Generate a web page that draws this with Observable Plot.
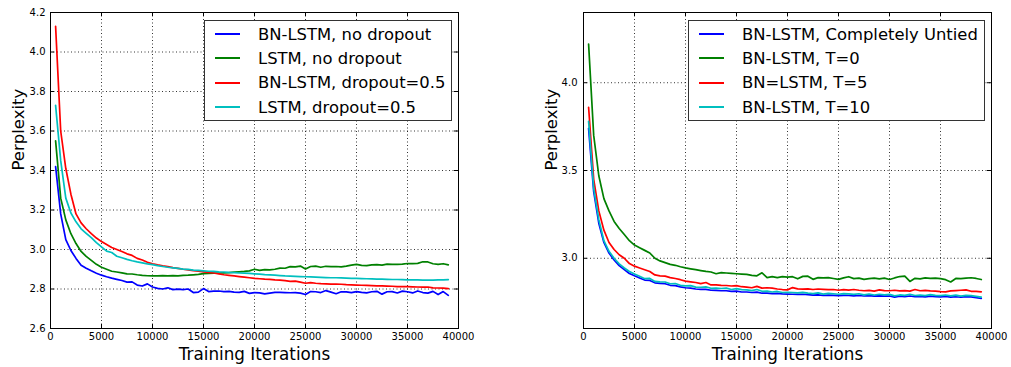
<!DOCTYPE html>
<html><head><meta charset="utf-8">
<script src="https://cdn.jsdelivr.net/npm/d3@7"></script>
<script src="https://cdn.jsdelivr.net/npm/@observablehq/plot@0.6"></script>
<style>
body{margin:0;background:#fff;font-family:"DejaVu Sans",sans-serif;}
#wrap{position:relative;width:1011px;height:367px;overflow:hidden;}
.panel{position:absolute;top:0;}
.legend{position:absolute;background:#fff;border:1.3px solid #333;box-sizing:border-box;padding-top:1px;}
.row{height:24.3px;display:flex;align-items:center;font-size:16.4px;white-space:nowrap;color:#000;}
.swatch{width:25px;height:0;border-top:2px solid;margin-left:10px;margin-right:18px;}
</style></head><body><div id="wrap"></div>
<script>
const iterations = [500,1000,1500,2000,2500,3000,3500,4000,4500,5000,
 5500,6000,6500,7000,7500,8000,8500,9000,9500,10000,
 10500,11000,11500,12000,12500,13000,13500,14000,14500,15000,
 15500,16000,16500,17000,17500,18000,18500,19000,19500,20000,
 20500,21000,21500,22000,22500,23000,23500,24000,24500,25000,
 25500,26000,26500,27000,27500,28000,28500,29000,29500,30000,
 30500,31000,31500,32000,32500,33000,33500,34000,34500,35000,
 35500,36000,36500,37000,37500,38000,38500,39000];

const xTicks = [0,5000,10000,15000,20000,25000,30000,35000,40000];
const leftYTicks = [2.6,2.8,3.0,3.2,3.4,3.6,3.8,4.0,4.2];
const rightYTicks = [3.0,3.5,4.0];
const colors = ["#0000ff","#008000","#ff0000","#00bfbf"];

const leftLabels = ["BN-LSTM, no dropout","LSTM, no dropout","BN-LSTM, dropout=0.5","LSTM, dropout=0.5"];
const rightLabels = ["BN-LSTM, Completely Untied","BN-LSTM, T=0","BN=LSTM, T=5","BN-LSTM, T=10"];

const leftBnNoDrop = [3.42,3.18,3.05,2.995,2.955,2.92,2.905,2.892,2.88,2.87,
 2.862,2.855,2.849,2.843,2.835,2.836,2.82,2.815,2.826,2.81,
 2.803,2.8,2.806,2.797,2.799,2.797,2.8,2.782,2.784,2.802,
 2.787,2.789,2.79,2.787,2.788,2.784,2.783,2.788,2.778,2.782,
 2.78,2.775,2.779,2.783,2.783,2.782,2.781,2.782,2.779,2.772,
 2.787,2.786,2.782,2.792,2.784,2.776,2.786,2.785,2.782,2.787,
 2.783,2.78,2.786,2.788,2.774,2.786,2.787,2.78,2.789,2.786,
 2.78,2.79,2.782,2.779,2.788,2.772,2.787,2.768];
const leftLstmNoDrop = [3.55,3.26,3.15,3.08,3.03,2.99,2.965,2.945,2.925,2.91,
 2.9,2.89,2.886,2.882,2.877,2.876,2.872,2.869,2.867,2.866,
 2.866,2.868,2.866,2.868,2.866,2.869,2.87,2.872,2.874,2.878,
 2.879,2.88,2.881,2.882,2.883,2.885,2.887,2.889,2.892,2.9,
 2.894,2.898,2.897,2.9,2.906,2.905,2.913,2.912,2.916,2.901,
 2.914,2.916,2.91,2.915,2.913,2.914,2.912,2.916,2.921,2.925,
 2.92,2.918,2.922,2.923,2.921,2.926,2.925,2.925,2.926,2.929,
 2.928,2.93,2.938,2.937,2.928,2.925,2.928,2.922];
const leftBnDrop = [4.13,3.6,3.41,3.28,3.18,3.135,3.105,3.08,3.058,3.04,
 3.025,3.01,3.0,2.99,2.978,2.97,2.955,2.947,2.935,2.928,
 2.922,2.917,2.913,2.908,2.904,2.9,2.897,2.893,2.89,2.887,
 2.884,2.881,2.877,2.872,2.869,2.866,2.863,2.86,2.857,2.854,
 2.852,2.85,2.849,2.846,2.845,2.842,2.839,2.84,2.835,2.829,
 2.832,2.829,2.827,2.826,2.825,2.825,2.824,2.822,2.821,2.82,
 2.819,2.818,2.817,2.816,2.816,2.815,2.814,2.812,2.812,2.812,
 2.811,2.81,2.809,2.81,2.806,2.805,2.804,2.802];
const leftLstmDrop = [3.73,3.45,3.26,3.185,3.14,3.105,3.082,3.06,3.035,3.013,
 2.992,2.985,2.966,2.958,2.95,2.943,2.937,2.932,2.927,2.923,
 2.918,2.914,2.91,2.907,2.904,2.901,2.899,2.896,2.894,2.892,
 2.89,2.889,2.887,2.886,2.884,2.883,2.881,2.88,2.879,2.877,
 2.875,2.873,2.872,2.87,2.868,2.866,2.865,2.864,2.863,2.862,
 2.861,2.86,2.859,2.858,2.857,2.857,2.856,2.855,2.854,2.854,
 2.853,2.852,2.851,2.85,2.85,2.849,2.848,2.848,2.847,2.846,
 2.846,2.846,2.845,2.845,2.845,2.846,2.846,2.847];

const rightUntied = [3.74,3.38,3.2,3.09,3.03,2.99,2.958,2.935,2.913,2.9,
 2.888,2.876,2.874,2.86,2.857,2.855,2.846,2.844,2.837,2.832,
 2.83,2.825,2.823,2.823,2.818,2.817,2.815,2.815,2.811,2.813,
 2.808,2.808,2.805,2.807,2.801,2.802,2.799,2.8,2.797,2.796,
 2.795,2.794,2.795,2.793,2.79,2.792,2.788,2.79,2.789,2.787,
 2.789,2.788,2.786,2.788,2.785,2.787,2.784,2.786,2.784,2.785,
 2.779,2.784,2.782,2.785,2.781,2.783,2.78,2.784,2.781,2.78,
 2.783,2.779,2.781,2.778,2.782,2.78,2.776,2.771];
const rightT0 = [4.22,3.7,3.47,3.34,3.27,3.21,3.17,3.135,3.1,3.075,
 3.06,3.045,3.03,3.0,2.985,2.975,2.965,2.96,2.952,2.945,
 2.94,2.935,2.93,2.925,2.922,2.912,2.918,2.916,2.914,2.912,
 2.91,2.908,2.903,2.9,2.917,2.89,2.895,2.89,2.895,2.893,
 2.895,2.883,2.897,2.898,2.88,2.89,2.888,2.89,2.885,2.88,
 2.888,2.895,2.884,2.887,2.88,2.884,2.887,2.883,2.887,2.879,
 2.888,2.896,2.898,2.868,2.886,2.883,2.888,2.885,2.887,2.884,
 2.878,2.865,2.885,2.884,2.887,2.889,2.885,2.879];
const rightT5 = [3.86,3.45,3.27,3.16,3.09,3.05,3.02,3.0,2.97,2.955,
 2.945,2.935,2.925,2.905,2.9,2.898,2.89,2.885,2.878,2.87,
 2.866,2.862,2.856,2.862,2.848,2.848,2.846,2.845,2.842,2.844,
 2.838,2.836,2.832,2.84,2.83,2.832,2.83,2.825,2.822,2.82,
 2.833,2.826,2.824,2.826,2.822,2.825,2.823,2.821,2.822,2.818,
 2.821,2.819,2.822,2.818,2.815,2.817,2.813,2.82,2.816,2.815,
 2.818,2.814,2.816,2.813,2.822,2.815,2.817,2.814,2.813,2.81,
 2.809,2.814,2.816,2.818,2.82,2.812,2.811,2.809];
const rightT10 = [3.78,3.4,3.22,3.1,3.04,3.0,2.968,2.945,2.925,2.91,
 2.898,2.884,2.885,2.868,2.866,2.865,2.855,2.856,2.846,2.843,
 2.844,2.836,2.835,2.837,2.829,2.83,2.828,2.83,2.822,2.827,
 2.821,2.82,2.816,2.822,2.812,2.813,2.808,2.811,2.805,2.806,
 2.805,2.803,2.806,2.802,2.799,2.803,2.796,2.8,2.798,2.795,
 2.799,2.797,2.794,2.798,2.792,2.796,2.791,2.795,2.792,2.794,
 2.786,2.791,2.789,2.795,2.788,2.79,2.787,2.793,2.789,2.787,
 2.791,2.786,2.79,2.784,2.789,2.787,2.783,2.779];

const H = 367, MT = 12, MB = 39, PW = 408, PH = H - MT - MB;

function panel({series, labels, yDomain, yTicks, width, marginLeft, marginRight, left, legendLeft, legendWidth, yPad}) {
  const data = series.flatMap((vals, k) => vals.map((v, i) => ({x: iterations[i], y: v, s: labels[k]})));
  const grid = {stroke: "black", strokeOpacity: 1, strokeDasharray: "1,2.5", strokeWidth: 0.8};
  const chart = Plot.plot({
    width, height: H, marginLeft, marginRight, marginTop: MT, marginBottom: MB,
    x: {domain: [0, 40000]},
    y: {domain: yDomain},
    color: {domain: labels, range: colors},
    style: {fontFamily: "DejaVu Sans", fontSize: "10px", color: "black", background: "white", overflow: "visible"},
    marks: [
      Plot.gridX({...grid, ticks: xTicks}),
      Plot.gridY({...grid, ticks: yTicks}),
      Plot.axisX({ticks: xTicks, tickSize: 0, tickPadding: 4, tickFormat: d => String(d), label: null}),
      Plot.axisY({ticks: yTicks, tickSize: 0, tickPadding: yPad, tickFormat: d3.format(".1f"), label: null}),
      Plot.tickX(xTicks, {x: d => d, insetTop: PH - 4, stroke: "black"}),
      Plot.tickX(xTicks, {x: d => d, insetBottom: PH - 4, stroke: "black"}),
      Plot.tickY(yTicks, {y: d => d, insetRight: PW - 4, stroke: "black"}),
      Plot.tickY(yTicks, {y: d => d, insetLeft: PW - 4, stroke: "black"}),
      Plot.line(data, {x: "x", y: "y", z: "s", stroke: "s", strokeWidth: 1.7}),
      Plot.frame({stroke: "black"}),
      Plot.text(["Training Iterations"], {text: d => d, frameAnchor: "bottom", dy: 26, fontSize: 16.8, lineAnchor: "middle"}),
      Plot.text(["Perplexity"], {text: d => d, frameAnchor: "left", dx: -32, rotate: -90, fontSize: 16.5})
    ]
  });
  const div = document.createElement("div");
  div.className = "panel";
  div.style.left = left + "px";
  div.appendChild(chart);
  document.getElementById("wrap").appendChild(div);

  const lg = document.createElement("div");
  lg.className = "legend";
  lg.style.left = legendLeft + "px";
  lg.style.top = "20px";
  lg.style.width = legendWidth + "px";
  lg.style.height = "101px";
  labels.forEach((l, k) => {
    const r = document.createElement("div");
    r.className = "row";
    const sw = document.createElement("span");
    sw.className = "swatch";
    sw.style.borderTopColor = colors[k];
    const t = document.createElement("span");
    t.textContent = l;
    r.appendChild(sw); r.appendChild(t);
    lg.appendChild(r);
  });
  document.getElementById("wrap").appendChild(lg);
}

panel({series: [leftBnNoDrop, leftLstmNoDrop, leftBnDrop, leftLstmDrop], labels: leftLabels,
  yDomain: [2.6, 4.2], yTicks: leftYTicks, width: 520, marginLeft: 50, marginRight: 62, left: 0,
  legendLeft: 204, legendWidth: 248, yPad: 5});
panel({series: [rightUntied, rightT0, rightT5, rightT10], labels: rightLabels,
  yDomain: [2.6, 4.4], yTicks: rightYTicks, width: 491, marginLeft: 63, marginRight: 20, left: 520,
  legendLeft: 688, legendWidth: 297, yPad: 6});
</script></body></html>
